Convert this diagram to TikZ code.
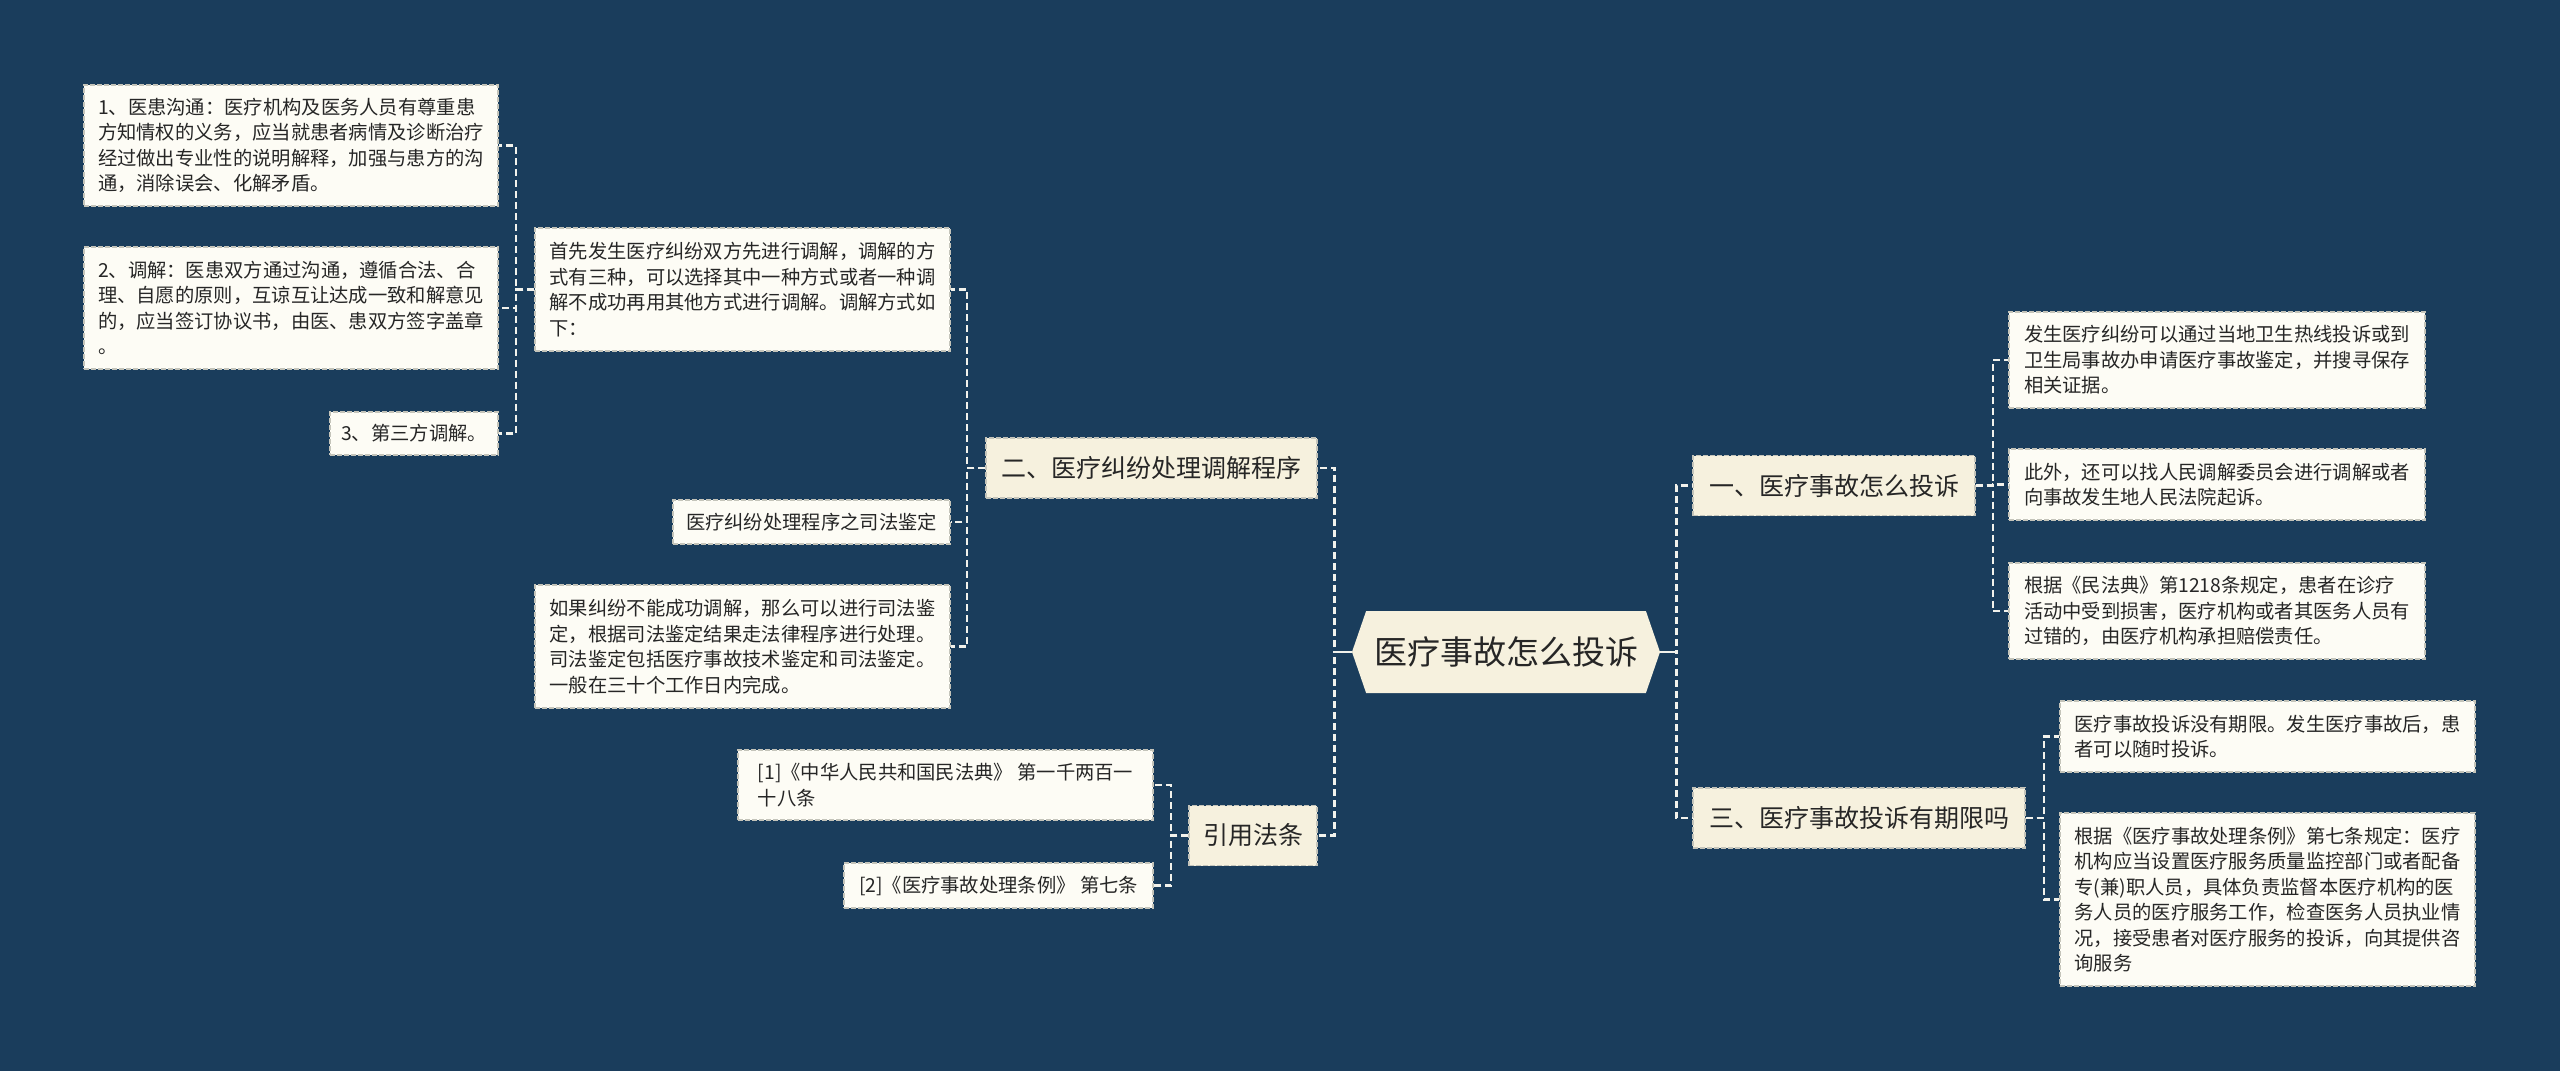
\documentclass[tikz,border=0pt]{standalone}
\usepackage{fontspec}
\setmainfont{Noto Sans CJK SC}
\usepackage{tikz}
\usetikzlibrary{shapes.symbols}
\definecolor{bgblue}{HTML}{1A3D5C}
\definecolor{leaffill}{HTML}{FDFCF5}
\definecolor{topicfill}{HTML}{F6F1DE}
\definecolor{boxline}{HTML}{C4C4BA}
\definecolor{linkline}{HTML}{F2F2EC}
\definecolor{txt}{HTML}{262626}

\begin{document}
\begin{tikzpicture}[x=1pt, y=-1pt,
    root/.style={signal, signal to=west and east, signal pointer angle=142, fill=topicfill, text=txt, minimum width=308pt, minimum height=82pt, inner sep=0pt, font=\fontsize{33}{40}\selectfont},
    topic/.style={rectangle, draw=boxline, fill=topicfill, dash pattern=on 5pt off 2pt, line width=1.2pt, text=txt, minimum height=60pt, font=\fontsize{25}{30}\selectfont},
    leaf/.style={rectangle, draw=boxline, fill=leaffill, dash pattern=on 5pt off 2pt, line width=1.2pt, text=txt, align=left, inner xsep=11pt, font=\fontsize{19.3}{25.5}\selectfont},
    link/.style={draw=linkline, line width=2.1pt, dash pattern=on 7pt off 4pt},
    trunk/.style={link, line width=2.8pt},
    stub/.style={draw=linkline, line width=2.8pt}
]
\fill[bgblue] (0,0) rectangle (2560,1071);
\useasboundingbox (0,0) rectangle (2560,1071);

\node[root] (root) at (1506,652) {医疗事故怎么投诉};
\node[topic, minimum width=331pt] (proc) at (1151.5,468) {二、医疗纠纷处理调解程序};
\node[topic, minimum width=128pt] (laws) at (1253,835.5) {引用法条};
\node[topic, minimum width=282pt] (how) at (1834,485.5) {一、医疗事故怎么投诉};
\node[topic, minimum width=332pt] (limit) at (1859,818) {三、医疗事故投诉有期限吗};

\node[leaf, minimum width=415pt, minimum height=123pt] (first) at (742.5,289.5) {首先发生医疗纠纷双方先进行调解，调解的方\\式有三种，可以选择其中一种方式或者一种调\\解不成功再用其他方式进行调解。调解方式如\\下：};
\node[leaf, minimum width=277pt, minimum height=44pt] (judicial) at (811.5,522) {医疗纠纷处理程序之司法鉴定};
\node[leaf, minimum width=415pt, minimum height=123pt] (ifnot) at (742.5,646.5) {如果纠纷不能成功调解，那么可以进行司法鉴\\定，根据司法鉴定结果走法律程序进行处理。\\司法鉴定包括医疗事故技术鉴定和司法鉴定。\\一般在三十个工作日内完成。};
\node[leaf, minimum width=414pt, minimum height=121pt] (talk) at (291,145.5) {1、医患沟通：医疗机构及医务人员有尊重患\\方知情权的义务，应当就患者病情及诊断治疗\\经过做出专业性的说明解释，加强与患方的沟\\通，消除误会、化解矛盾。};
\node[leaf, minimum width=414pt, minimum height=122pt] (mediate) at (291,308) {2、调解：医患双方通过沟通，遵循合法、合\\理、自愿的原则，互谅互让达成一致和解意见\\的，应当签订协议书，由医、患双方签字盖章\\。};
\node[leaf, minimum width=168pt, minimum height=43pt] (third) at (414,433.5) {3、第三方调解。};
\node[leaf, minimum width=415pt, minimum height=70pt] (civil) at (945.5,785) {[1]《中华人民共和国民法典》 第一千两百一\\十八条};
\node[leaf, minimum width=309pt, minimum height=45pt] (rules) at (998.5,885.5) {[2]《医疗事故处理条例》 第七条};
\node[leaf, minimum width=416pt, minimum height=96pt] (hotline) at (2217,360) {发生医疗纠纷可以通过当地卫生热线投诉或到\\卫生局事故办申请医疗事故鉴定，并搜寻保存\\相关证据。};
\node[leaf, minimum width=416pt, minimum height=71pt] (court) at (2217,484.5) {此外，还可以找人民调解委员会进行调解或者\\向事故发生地人民法院起诉。};
\node[leaf, minimum width=416pt, minimum height=96pt] (code) at (2217,611) {根据《民法典》第1218条规定，患者在诊疗\\活动中受到损害，医疗机构或者其医务人员有\\过错的，由医疗机构承担赔偿责任。};
\node[leaf, minimum width=415pt, minimum height=71pt] (nolimit) at (2267.5,736.5) {医疗事故投诉没有期限。发生医疗事故后，患\\者可以随时投诉。};
\node[leaf, minimum width=415pt, minimum height=173pt] (article) at (2267.5,899.5) {根据《医疗事故处理条例》第七条规定：医疗\\机构应当设置医疗服务质量监控部门或者配备\\专(兼)职人员，具体负责监督本医疗机构的医\\务人员的医疗服务工作，检查医务人员执业情\\况，接受患者对医疗服务的投诉，向其提供咨\\询服务};

\draw[trunk] (root.west) -- ++(-17,0) |- (proc.east);
\draw[trunk] (root.west) -- ++(-17,0) |- (laws.east);
\draw[trunk] (root.east) -- ++(16,0) |- (how.west);
\draw[trunk] (root.east) -- ++(16,0) |- (limit.west);
\draw[stub] (root.west) -- ++(-17,0);
\draw[stub] (root.east) -- ++(16,0);
\draw[link] (proc.west) -- ++(-18,0) |- (first.east);
\draw[link] (proc.west) -- ++(-18,0) |- (judicial.east);
\draw[link] (proc.west) -- ++(-18,0) |- (ifnot.east);
\draw[link] (first.west) -- ++(-18,0) |- (talk.east);
\draw[link] (first.west) -- ++(-18,0) |- (mediate.east);
\draw[link] (first.west) -- ++(-18,0) |- (third.east);
\draw[link] (laws.west) -- ++(-17,0) |- (civil.east);
\draw[link] (laws.west) -- ++(-17,0) |- (rules.east);
\draw[link] (how.east) -- ++(17,0) |- (hotline.west);
\draw[link] (how.east) -- ++(17,0) |- (court.west);
\draw[link] (how.east) -- ++(17,0) |- (code.west);
\draw[link] (limit.east) -- ++(18,0) |- (nolimit.west);
\draw[link] (limit.east) -- ++(18,0) |- (article.west);
\end{tikzpicture}
\end{document}
